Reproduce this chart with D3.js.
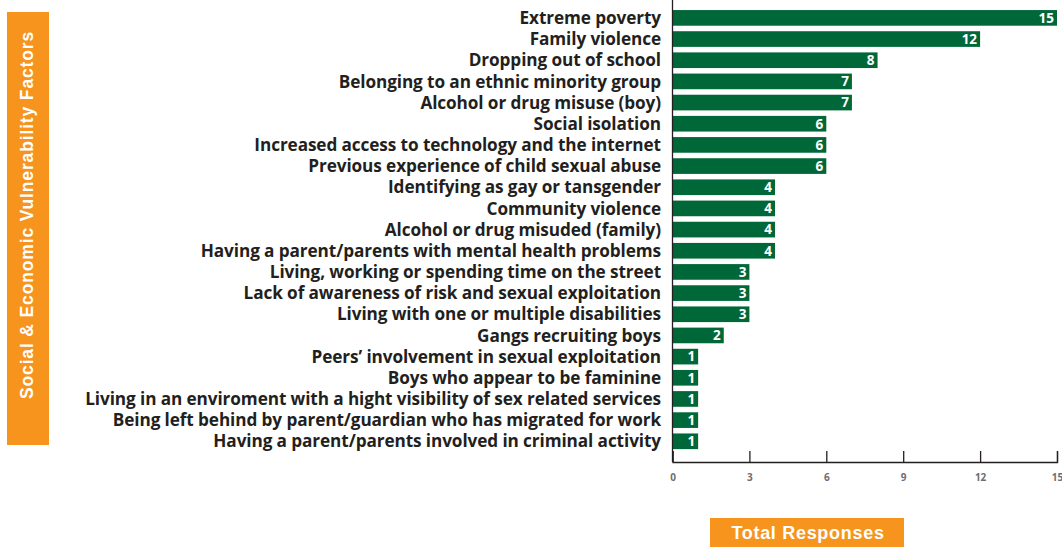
<!DOCTYPE html>
<html>
<head>
<meta charset="utf-8">
<script src="https://cdn.jsdelivr.net/npm/d3@7"></script>
<style>
  html, body { margin: 0; padding: 0; background: #fff; }
  svg { display: block; }
</style>
</head>
<body>
<svg id="chart" width="1062" height="547"></svg>
<script>
// Vulnerability factors and number of responses
const factors = [
  "Extreme poverty",
  "Family violence",
  "Dropping out of school",
  "Belonging to an ethnic minority group",
  "Alcohol or drug misuse (boy)",
  "Social isolation",
  "Increased access to technology and the internet",
  "Previous experience of child sexual abuse",
  "Identifying as gay or tansgender",
  "Community violence",
  "Alcohol or drug misuded (family)",
  "Having a parent/parents with mental health problems",
  "Living, working or spending time on the street",
  "Lack of awareness of risk and sexual exploitation",
  "Living with one or multiple disabilities",
  "Gangs recruiting boys",
  "Peers\u2019 involvement in sexual exploitation",
  "Boys who appear to be faminine",
  "Living in an enviroment with a hight visibility of sex related services",
  "Being left behind by parent/guardian who has migrated for work",
  "Having a parent/parents involved in criminal activity"
];
const responses = [15, 12, 8, 7, 7, 6, 6, 6, 4, 4, 4, 4, 3, 3, 3, 2, 1, 1, 1, 1, 1];
const xTicks = [0, 3, 6, 9, 12, 15];

const yTitle = "Social & Economic Vulnerability Factors";
const xTitle = "Total Responses";

const green = "#006838";
const orange = "#F7941D";

const svg = d3.select("#chart");

const x0 = 672.5, x1 = 1057, yTop = 10, yBottom = 462;
const x = d3.scaleLinear().domain([0, 15]).range([x0, x1]);
const y = d3.scaleBand().domain(factors).range([yTop - 2.7, yTop - 2.7 + 21.17 * factors.length]).paddingInner(0.26).paddingOuter(0.13);

// bars
svg.append("g").selectAll("rect")
  .data(factors)
  .join("rect")
  .attr("x", x(0))
  .attr("y", d => y(d))
  .attr("width", (d, i) => x(responses[i]) - x(0))
  .attr("height", y.bandwidth())
  .attr("fill", green);

// value labels inside bar ends
svg.append("g").selectAll("text")
  .data(factors)
  .join("text")
  .attr("x", (d, i) => x(responses[i]) - 3)
  .attr("y", d => y(d) + y.bandwidth() / 2)
  .attr("dy", "0.36em")
  .attr("text-anchor", "end")
  .attr("fill", "#fff")
  .attr("font-family", "'Open Sans', sans-serif")
  .attr("font-weight", "bold")
  .attr("font-size", 13.5)
  .text((d, i) => responses[i]);

// category labels
svg.append("g").selectAll("text")
  .data(factors)
  .join("text")
  .attr("x", 661)
  .attr("y", d => y(d) + y.bandwidth() / 2)
  .attr("dy", "0.36em")
  .attr("text-anchor", "end")
  .attr("fill", "#231f20")
  .attr("font-family", "'Open Sans', sans-serif")
  .attr("font-weight", "bold")
  .attr("font-size", 17.2)
  .attr("letter-spacing", "-0.1px")
  .text(d => d);

// vertical axis line
svg.append("line")
  .attr("x1", x0).attr("x2", x0)
  .attr("y1", 0).attr("y2", yBottom)
  .attr("stroke", "#231f20").attr("stroke-width", 1.3);

// bottom axis with inward ticks
const xAxis = d3.axisBottom(x).tickValues(xTicks).tickSize(-11).tickPadding(12);
const gx = svg.append("g").attr("transform", `translate(0,${yBottom})`).call(xAxis);
gx.select(".domain").attr("stroke", "#231f20").attr("stroke-width", 1.3);
gx.selectAll(".tick line").attr("stroke", "#231f20").attr("stroke-width", 1.3);
gx.selectAll(".tick text")
  .attr("fill", "#6d6e71")
  .attr("font-family", "'Open Sans', sans-serif")
  .attr("font-weight", "bold")
  .attr("font-size", 10);

// x title box
svg.append("rect").attr("x", 710).attr("y", 518).attr("width", 194).attr("height", 29).attr("fill", orange);
svg.append("text")
  .attr("x", 808).attr("y", 533).attr("dy", "0.36em")
  .attr("text-anchor", "middle")
  .attr("fill", "#fff")
  .attr("font-family", "'Liberation Sans', Arial, sans-serif")
  .attr("font-weight", "bold")
  .attr("font-size", 18)
  .attr("letter-spacing", "0.7px")
  .text(xTitle);

// y title box
svg.append("rect").attr("x", 7).attr("y", 12).attr("width", 42).attr("height", 433).attr("fill", orange);
svg.append("text")
  .attr("transform", "translate(27,215) rotate(-90)")
  .attr("dy", "0.36em")
  .attr("text-anchor", "middle")
  .attr("fill", "#fff")
  .attr("font-family", "'Liberation Sans', Arial, sans-serif")
  .attr("font-weight", "bold")
  .attr("font-size", 17.5)
  .attr("letter-spacing", "0.85px")
  .text(yTitle);
</script>
</body>
</html>
